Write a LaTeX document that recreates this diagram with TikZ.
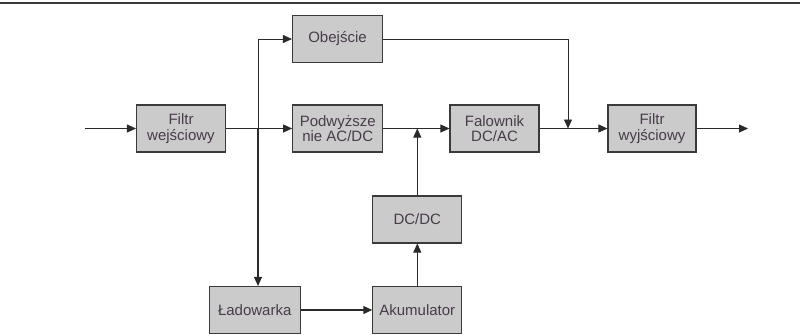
\documentclass[tikz,border=0pt]{standalone}
\usepackage{fontspec}
\setmainfont{Liberation Sans}
\usetikzlibrary{arrows.meta}
\definecolor{boxfill}{HTML}{CBCBCB}
\definecolor{boxline}{HTML}{3A3A3A}
\definecolor{txt}{HTML}{483B4A}
\definecolor{wire}{HTML}{2A2A2A}
\tikzset{
  blk/.style={draw=boxline, line width=1.1pt, fill=boxfill, minimum width=89pt, minimum height=47pt,
    inner sep=1pt, align=center, text=txt, font=\fontsize{15pt}{15.5pt}\selectfont},
  wire/.style={draw=wire, line width=0.8pt},
  arr/.style={wire, -{Triangle[length=9pt,width=8pt]}}
}
\begin{document}
\begin{tikzpicture}[x=1pt,y=-1pt]
\useasboundingbox (0,0) rectangle (800,335);
\draw[draw=boxline, line width=2pt] (0,3) -- (800,3);
\node[blk] (fw) at (181,128.5) {Filtr\\wejściowy};
\node[blk, minimum width=90pt] (pod) at (337.7,128.5) {Podwyższe\\nie AC/DC};
\node[blk] (fal) at (494.5,128.5) {Falownik\\DC/AC};
\node[blk, minimum width=88pt] (fy) at (652,128.5) {Filtr\\wyjściowy};
\node[blk, minimum width=90pt] (ob) at (337.5,39) {Obejście};
\node[blk] (dc) at (417.3,219.5) {DC/DC};
\node[blk, minimum width=91pt] (lad) at (254.7,310) {Ładowarka};
\node[blk] (ak) at (417.3,310) {Akumulator};
\coordinate (in) at (85,128.5);
\coordinate (out) at (748,128.5);
\coordinate (j) at (258,128.5);
\coordinate (m) at (568,128.5);
\draw[arr] (in) -- (fw.west);
\draw[arr] (fw.east) -- (pod.west);
\draw[arr] (pod.east) -- (fal.west);
\draw[arr] (fal.east) -- (fy.west);
\draw[arr] (fy.east) -- (out);
\draw[arr] (j) |- (ob.west);
\draw[arr, line width=1.1pt] (j) -- (j |- lad.north);
\draw[arr] (ob.east) -| (m);
\draw[arr] (dc.north) -- (dc.north |- pod.east);
\draw[arr] (ak.north) -- (dc.south);
\draw[arr, line width=1.1pt] (lad.east) -- (ak.west);
\end{tikzpicture}
\end{document}
